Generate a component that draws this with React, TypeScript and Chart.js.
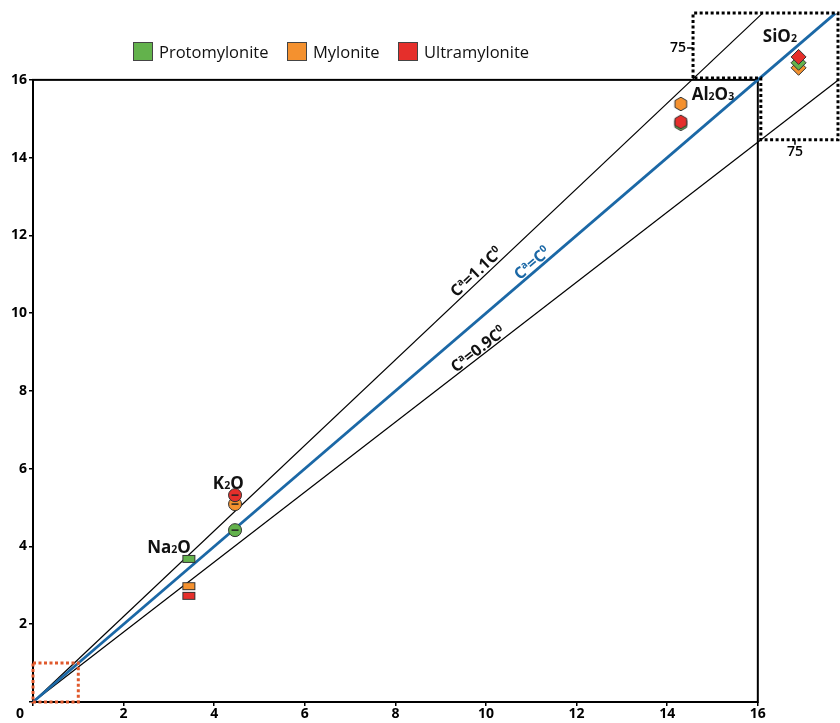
import React, { useEffect, useRef } from 'react';
import { Chart, registerables } from 'chart.js';

Chart.register(...registerables);

// ---------- data ----------
const oxides = ['Na2O', 'K2O', 'Al2O3', 'SiO2'];
// C0 (original, x) for each oxide; SiO2 is plotted in the rescaled inset
const originalConc = [3.44, 4.46, 14.3, 16.9];
const protomyloniteConc = [3.68, 4.42, 14.87, 16.44];
const myloniteConc = [2.98, 5.09, 15.38, 16.31];
const ultramyloniteConc = [2.73, 5.32, 14.92, 16.59];
const groupNames = ['Protomylonite', 'Mylonite', 'Ultramylonite'];
const groupColors = ['#63b24c', '#f4912f', '#e52f2b'];
const isoconSlopes = [1.1, 1.0, 0.9];
const isoconEndX = [16.1, 17.71, 17.77];
const isoconLabels = ['Cᵃ=1.1C⁰', 'Cᵃ=C⁰', 'Cᵃ=0.9C⁰'];
const axisTicks = [0, 2, 4, 6, 8, 10, 12, 14, 16];
const insetExtentX = 17.77;
const insetExtentY = 17.72;
const insetTickLabel = '75';
const insetTickValue = 16.82;

const FONT = '"Open Sans", "Noto Sans", sans-serif';
const BLUE = '#1b68a6';

type Part = { t: string; k?: 'sup' | 'sub' };

function drawRich(ctx: CanvasRenderingContext2D, parts: Part[], x: number, y: number, size: number, weight: string, color: string, align: 'left' | 'center') {
  const small = size * 0.62;
  const widths = parts.map((p) => {
    ctx.font = `${weight} ${p.k ? small : size}px ${FONT}`;
    return ctx.measureText(p.t).width;
  });
  const total = widths.reduce((a, b) => a + b, 0);
  let cx = align === 'center' ? x - total / 2 : x;
  ctx.textBaseline = 'alphabetic';
  ctx.textAlign = 'left';
  ctx.fillStyle = color;
  parts.forEach((p, i) => {
    ctx.font = `${weight} ${p.k ? small : size}px ${FONT}`;
    const dy = p.k === 'sup' ? -size * 0.36 : p.k === 'sub' ? size * 0.02 : 0;
    ctx.fillText(p.t, cx, y + dy);
    cx += widths[i];
  });
}

function parseFormula(s: string): Part[] {
  const parts: Part[] = [];
  for (const ch of s) {
    if (/[0-9]/.test(ch)) parts.push({ t: ch, k: 'sub' });
    else parts.push({ t: ch });
  }
  return parts;
}

function parseIsocon(s: string): Part[] {
  const parts: Part[] = [];
  for (const ch of s) {
    if (ch === 'ᵃ') parts.push({ t: 'a', k: 'sup' });
    else if (ch === '⁰') parts.push({ t: '0', k: 'sup' });
    else parts.push({ t: ch });
  }
  return parts;
}

function makeRect(fill: string) {
  const c = document.createElement('canvas');
  c.width = 15; c.height = 10;
  const g = c.getContext('2d')!;
  g.fillStyle = fill; g.fillRect(1, 1, 13, 8);
  g.strokeStyle = '#333'; g.lineWidth = 1; g.strokeRect(1.5, 1.5, 12, 7);
  return c;
}

function makeHex(fill: string) {
  const c = document.createElement('canvas');
  c.width = 16; c.height = 16;
  const g = c.getContext('2d')!;
  g.beginPath();
  for (let k = 0; k < 6; k++) {
    const a = -Math.PI / 2 + (k * Math.PI) / 3;
    const px = 8 + 6.8 * Math.cos(a);
    const py = 8 + 6.8 * Math.sin(a);
    if (k === 0) g.moveTo(px, py); else g.lineTo(px, py);
  }
  g.closePath();
  g.fillStyle = fill; g.fill();
  g.strokeStyle = '#333'; g.lineWidth = 1; g.stroke();
  return c;
}

const annotations = {
  id: 'annotations',
  beforeDatasetsDraw(chart: any) {
    const { ctx, scales } = chart;
    const X = (v: number) => scales.x.getPixelForValue(v);
    const Y = (v: number) => scales.y.getPixelForValue(v);
    ctx.save();
    ctx.strokeStyle = '#000';
    ctx.lineWidth = 2;
    ctx.strokeRect(X(0), Y(16), X(16) - X(0), Y(0) - Y(16));
    ctx.restore();
  },
  afterDatasetsDraw(chart: any) {
    const { ctx, scales } = chart;
    const xs = scales.x, ys = scales.y;
    const X = (v: number) => xs.getPixelForValue(v);
    const Y = (v: number) => ys.getPixelForValue(v);
    const left = X(0), right = X(16), top = Y(16), bottom = Y(0);
    ctx.save();

    // "0" at origin
    ctx.font = `700 14px ${FONT}`;
    ctx.fillStyle = '#000';
    ctx.textAlign = 'center';
    ctx.textBaseline = 'middle';
    ctx.fillText('0', left - 13, bottom + 12);

    // inset dotted box (SiO2)
    const ix0 = X(14.57), ix1 = X(insetExtentX), iy0 = Y(insetExtentY), iy1 = Y(14.46);
    ctx.strokeStyle = '#000';
    ctx.lineWidth = 3;
    ctx.setLineDash([3, 2.5]);
    ctx.beginPath();
    ctx.moveTo(ix0, top - 2);
    ctx.lineTo(ix0, iy0);
    ctx.lineTo(ix1, iy0);
    ctx.lineTo(ix1, iy1);
    ctx.lineTo(right + 3, iy1);
    ctx.lineTo(right + 3, top - 2);
    ctx.closePath();
    ctx.stroke();

    // orange dotted box near origin
    ctx.strokeStyle = '#e0592c';
    ctx.beginPath();
    ctx.rect(X(0), Y(1), X(1) - X(0), Y(0) - Y(1));
    ctx.stroke();
    ctx.setLineDash([]);

    // inset tick labels 75
    const ty = Y(insetTickValue), tx = X(insetTickValue);
    ctx.strokeStyle = '#000';
    ctx.lineWidth = 1.5;
    ctx.beginPath();
    ctx.moveTo(ix0 - 6, ty); ctx.lineTo(ix0, ty);
    ctx.moveTo(tx, iy1); ctx.lineTo(tx, iy1 + 5);
    ctx.stroke();
    ctx.font = `600 14px ${FONT}`;
    ctx.fillStyle = '#000';
    ctx.textAlign = 'right';
    ctx.textBaseline = 'middle';
    ctx.fillText(insetTickLabel, ix0 - 7, ty);
    ctx.textAlign = 'center';
    ctx.textBaseline = 'top';
    ctx.fillText(insetTickLabel, tx, iy1 + 5);

    // oxide labels
    const labelAnchors = [[2.52, 3.83], [3.97, 5.48], [14.54, 15.49], [16.11, 16.98]];
    oxides.forEach((ox, i) => {
      drawRich(ctx, parseFormula(ox), X(labelAnchors[i][0]), Y(labelAnchors[i][1]), 17, '700', '#111', 'left');
    });

    // isocon labels
    const labelAt = [[9.91, 8.7], [11.13, 8.3], [9.92, 7.4]];
    isoconSlopes.forEach((m, i) => {
      const t = labelAt[i][0];
      const d = labelAt[i][1];
      const px = X(t), py = Y(m * t);
      const dx = X(t + 1) - X(t);
      const dy = Y(m * (t + 1)) - Y(m * t);
      const ang = Math.atan2(dy, dx);
      const nx = Math.sin(ang), ny = -Math.cos(ang);
      ctx.save();
      ctx.translate(px + nx * d, py + ny * d);
      ctx.rotate(ang);
      drawRich(ctx, parseIsocon(isoconLabels[i]), 0, 5.5, 16, '700', i === 1 ? BLUE : '#111', 'center');
      ctx.restore();
    });
    ctx.restore();
  },
};

export default function App() {
  const ref = useRef<HTMLCanvasElement>(null);

  useEffect(() => {
    document.body.style.margin = '0';
    const shapesFor = (color: string) => [makeRect(color), 'circle', makeHex(color), 'rectRot'];
    const radii = [6, 6.5, 8, 7.5];
    const concs = [protomyloniteConc, myloniteConc, ultramyloniteConc];
    const orders = [2, 3, 1];

    const markerSets = groupNames.map((name, g) => ({
      label: name,
      data: originalConc.map((x, i) => ({ x, y: concs[g][i] })),
      pointStyle: shapesFor(groupColors[g]),
      pointRadius: radii,
      pointHoverRadius: radii,
      backgroundColor: groupColors[g],
      borderColor: '#333',
      pointBorderWidth: 1,
      showLine: false,
      order: orders[g],
      clip: false,
    }));

    const dashSet = {
      label: 'marks',
      data: [0, 1, 2].map((g) => ({ x: originalConc[1], y: concs[g][1] })),
      pointStyle: 'line',
      pointRadius: 3.5,
      borderColor: '#222',
      pointBorderWidth: 1.5,
      showLine: false,
      order: 0,
      clip: false,
    };

    const lineSets = isoconSlopes.map((m, i) => ({
      label: isoconLabels[i],
      data: [{ x: 0, y: 0 }, { x: isoconEndX[i], y: m * isoconEndX[i] }],
      showLine: true,
      pointRadius: 0,
      borderColor: i === 1 ? BLUE : '#000',
      borderWidth: i === 1 ? 2.8 : 1.2,
      order: i === 1 ? 9 : 10,
      clip: false,
    }));

    const tickFont = { family: FONT, size: 14, weight: '700' as any };
    const chart = new Chart(ref.current!, {
      type: 'scatter',
      data: { datasets: [...markerSets, dashSet, ...lineSets] as any },
      options: {
        animation: false,
        responsive: false,
        devicePixelRatio: 1,
        layout: { autoPadding: false, padding: { top: 13, right: 2, left: 0, bottom: 0 } },
        plugins: { legend: { display: false }, tooltip: { enabled: false } },
        scales: {
          x: {
            type: 'linear',
            min: axisTicks[0],
            max: insetExtentX,
            afterBuildTicks: (s: any) => { s.ticks = axisTicks.map((v) => ({ value: v })); },
            ticks: { color: '#000', font: tickFont, padding: 0, maxRotation: 0, callback: (v: any) => (v === 0 ? '' : String(v)) },
            grid: { display: true, drawOnChartArea: false, drawTicks: true, tickLength: 4, color: '#000', lineWidth: 1.5 },
            border: { display: false },
            afterFit: (s: any) => { s.height = 21; s.paddingLeft = 0; s.paddingRight = 0; },
          },
          y: {
            type: 'linear',
            min: axisTicks[0],
            max: insetExtentY,
            afterBuildTicks: (s: any) => { s.ticks = axisTicks.map((v) => ({ value: v })); },
            ticks: { color: '#000', font: tickFont, padding: 2, callback: (v: any) => (v === 0 ? '' : String(v)) },
            grid: { display: true, drawOnChartArea: false, drawTicks: true, tickLength: 4, color: '#000', lineWidth: 1.5 },
            border: { display: false },
            afterFit: (s: any) => { s.width = 33; s.paddingTop = 0; s.paddingBottom = 0; },
          },
        },
      },
      plugins: [annotations],
    });
    return () => chart.destroy();
  }, []);

  const legendLeft = [133, 287, 398];
  return (
    <div style={{ position: 'relative', width: 840, height: 723, background: '#fff' }}>
      <canvas ref={ref} width={840} height={723} style={{ display: 'block', width: 840, height: 723 }} />
      {groupNames.map((name, g) => (
        <div key={name} style={{ position: 'absolute', left: legendLeft[g], top: 42, height: 19, display: 'flex', alignItems: 'center', fontFamily: FONT, fontSize: 16.5, color: '#111', whiteSpace: 'nowrap' }}>
          <span style={{ display: 'inline-block', width: 18, height: 17, background: groupColors[g], border: '1px solid #444', marginRight: 6 }} />
          <span>{name}</span>
        </div>
      ))}
    </div>
  );
}
